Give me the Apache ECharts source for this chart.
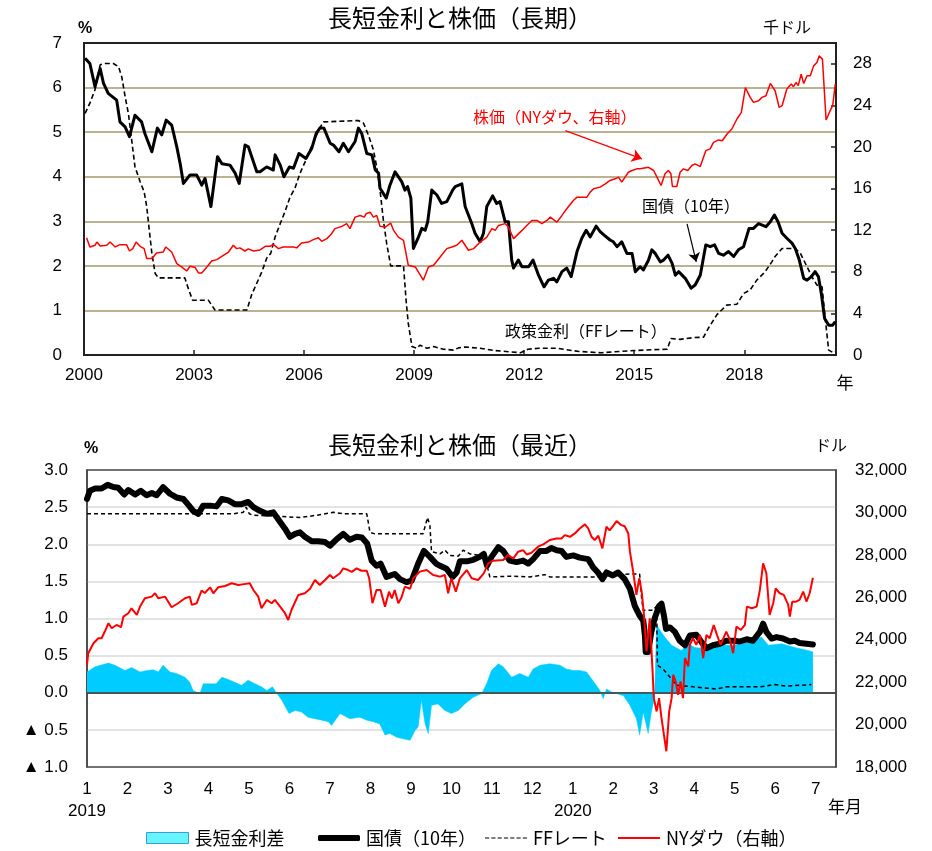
<!DOCTYPE html>
<html><head><meta charset="utf-8">
<script src="https://cdn.jsdelivr.net/npm/echarts@6.0.0/dist/echarts.min.js"></script>
<style>html,body{margin:0;padding:0;background:#fff}#c{width:932px;height:851px}</style>
</head><body><div id="c"></div>
<script>
// ---------- TOP CHART (x = years since 2000) ----------
const longYearTicks = [0, 3, 6, 9, 12, 15, 18];
const longYieldPts = [[0.03,6.66],[0.16,6.54],[0.30,6.02],[0.44,6.43],[0.53,6.10],[0.66,5.87],[0.89,5.72],[0.98,5.23],[1.12,5.12],[1.24,4.90],[1.39,5.38],[1.57,5.23],[1.66,4.97],[1.85,4.56],[2.00,5.09],[2.12,4.94],[2.24,5.27],[2.39,5.16],[2.53,4.67],[2.62,4.30],[2.71,3.85],[2.89,4.04],[3.07,4.04],[3.21,3.81],[3.30,3.96],[3.46,3.33],[3.64,4.45],[3.76,4.29],[3.98,4.26],[4.12,4.08],[4.23,3.85],[4.39,4.71],[4.48,4.67],[4.71,4.11],[4.80,4.11],[4.98,4.22],[5.16,4.15],[5.21,4.49],[5.35,4.26],[5.45,4.00],[5.60,4.22],[5.71,4.19],[5.86,4.52],[6.05,4.41],[6.21,4.64],[6.33,4.97],[6.44,5.10],[6.54,5.09],[6.71,4.75],[6.80,4.71],[6.95,4.56],[7.07,4.75],[7.21,4.56],[7.39,4.79],[7.48,5.09],[7.57,4.97],[7.71,4.52],[7.85,4.49],[7.94,4.15],[8.03,4.08],[8.07,3.74],[8.24,3.52],[8.34,3.81],[8.48,4.11],[8.66,3.89],[8.75,3.70],[8.82,3.78],[8.91,3.52],[8.98,2.39],[9.12,2.65],[9.21,2.84],[9.30,2.80],[9.37,2.99],[9.48,3.70],[9.62,3.59],[9.75,3.40],[9.89,3.44],[10.05,3.70],[10.12,3.78],[10.30,3.84],[10.39,3.33],[10.57,2.95],[10.66,2.73],[10.80,2.54],[10.89,2.73],[10.98,3.33],[11.14,3.57],[11.25,3.40],[11.34,3.44],[11.48,2.99],[11.57,2.99],[11.66,2.13],[11.71,1.95],[11.84,2.13],[11.94,1.98],[12.12,1.98],[12.24,2.13],[12.39,1.79],[12.54,1.53],[12.66,1.68],[12.80,1.72],[12.89,1.64],[13.03,1.87],[13.16,1.95],[13.28,1.76],[13.44,2.32],[13.57,2.62],[13.69,2.80],[13.80,2.65],[13.96,2.89],[14.07,2.77],[14.18,2.69],[14.34,2.58],[14.43,2.54],[14.53,2.43],[14.66,2.54],[14.80,2.28],[14.94,2.28],[15.03,1.87],[15.16,1.98],[15.25,1.91],[15.39,2.13],[15.48,2.36],[15.57,2.28],[15.71,2.09],[15.80,2.13],[15.92,2.24],[16.03,2.06],[16.12,1.79],[16.21,1.87],[16.39,1.72],[16.55,1.50],[16.66,1.57],[16.80,1.79],[16.95,2.47],[17.07,2.43],[17.19,2.47],[17.30,2.28],[17.43,2.24],[17.57,2.32],[17.71,2.21],[17.84,2.36],[17.98,2.43],[18.13,2.84],[18.25,2.84],[18.39,2.95],[18.59,2.88],[18.71,2.99],[18.82,3.14],[18.92,2.99],[19.03,2.73],[19.16,2.62],[19.30,2.51],[19.39,2.39],[19.50,2.13],[19.62,1.72],[19.71,1.68],[19.83,1.76],[19.93,1.87],[20.02,1.76],[20.10,1.38],[20.19,0.82],[20.30,0.67],[20.41,0.67],[20.48,0.75]];
const longFFPts = [[0.03,5.42],[0.16,5.65],[0.30,5.95],[0.44,6.51],[0.57,6.54],[0.80,6.54],[0.94,6.47],[1.03,6.24],[1.12,5.80],[1.21,5.42],[1.30,4.82],[1.39,4.22],[1.53,3.89],[1.64,3.66],[1.71,3.33],[1.78,2.80],[1.85,2.28],[1.94,1.83],[2.03,1.73],[2.75,1.73],[2.84,1.50],[2.96,1.23],[3.39,1.23],[3.48,1.12],[3.57,1.01],[4.44,1.01],[4.57,1.35],[4.71,1.61],[4.85,1.87],[4.98,2.17],[5.09,2.28],[5.21,2.65],[5.35,2.95],[5.48,3.22],[5.62,3.55],[5.75,3.74],[5.89,4.08],[6.03,4.34],[6.16,4.60],[6.30,4.86],[6.42,5.09],[6.53,5.23],[7.48,5.26],[7.62,5.20],[7.75,4.94],[7.89,4.60],[7.98,4.22],[8.07,3.70],[8.16,3.03],[8.25,2.51],[8.36,2.00],[8.71,2.00],[8.78,1.23],[8.84,0.71],[8.94,0.19],[9.07,0.15],[9.16,0.22],[9.35,0.15],[9.53,0.19],[9.80,0.13],[10.07,0.11],[10.21,0.16],[10.39,0.18],[10.80,0.15],[11.2,0.10],[11.5,0.08],[11.9,0.05],[12.1,0.13],[12.4,0.15],[12.9,0.15],[13.3,0.10],[13.5,0.08],[14.1,0.05],[14.6,0.08],[15.0,0.10],[15.5,0.12],[15.9,0.13],[16.0,0.37],[16.25,0.35],[16.61,0.39],[16.89,0.40],[17.02,0.60],[17.25,0.90],[17.52,1.12],[17.80,1.14],[17.98,1.38],[18.16,1.46],[18.34,1.68],[18.57,1.87],[18.75,2.09],[18.84,2.21],[19.03,2.39],[19.39,2.39],[19.53,2.28],[19.71,1.98],[19.84,1.76],[19.98,1.57],[20.12,1.53],[20.21,0.79],[20.30,0.11],[20.43,0.05],[20.48,0.07]];
const longDowPts = [[0.07,11.28],[0.16,10.39],[0.30,10.55],[0.35,10.86],[0.44,10.48],[0.62,10.55],[0.71,10.86],[0.85,10.39],[0.98,10.61],[1.16,10.61],[1.24,10.00],[1.33,10.23],[1.42,10.86],[1.53,10.45],[1.64,10.23],[1.71,9.27],[1.85,9.27],[1.98,9.81],[2.16,9.90],[2.23,10.39],[2.39,9.90],[2.53,8.79],[2.66,8.47],[2.80,8.08],[2.89,8.53],[3.03,8.41],[3.12,7.89],[3.21,7.89],[3.35,8.47],[3.48,9.04],[3.62,9.17],[3.80,9.59],[3.94,9.90],[4.07,10.55],[4.16,10.23],[4.25,10.30],[4.39,10.00],[4.48,10.20],[4.62,10.00],[4.80,10.10],[4.94,10.45],[5.07,10.45],[5.16,10.64],[5.30,10.23],[5.43,10.39],[5.71,10.39],[5.80,10.30],[5.93,10.77],[6.12,10.86],[6.25,11.09],[6.39,11.28],[6.48,10.93],[6.62,11.19],[6.75,11.66],[6.84,12.15],[7.03,12.37],[7.16,12.63],[7.25,12.15],[7.39,13.26],[7.53,13.42],[7.64,13.26],[7.69,13.58],[7.80,13.74],[7.89,13.26],[7.98,13.42],[8.07,12.37],[8.21,12.30],[8.36,12.69],[8.44,11.98],[8.57,11.34],[8.71,11.03],[8.84,8.63],[9.03,8.47],[9.25,7.19],[9.39,8.47],[9.53,8.63],[9.71,9.43],[9.89,10.23],[10.03,10.39],[10.16,10.55],[10.30,11.03],[10.48,10.07],[10.62,10.23],[10.80,10.86],[10.98,11.34],[11.12,12.15],[11.21,11.98],[11.30,12.46],[11.48,12.63],[11.57,12.30],[11.71,11.19],[11.80,11.50],[11.94,11.98],[12.07,12.46],[12.21,12.94],[12.35,12.94],[12.48,12.63],[12.62,12.94],[12.71,13.26],[12.89,12.78],[13.03,13.42],[13.16,14.06],[13.34,14.86],[13.44,15.18],[13.71,15.18],[13.80,15.66],[13.89,15.98],[14.07,16.14],[14.21,16.46],[14.34,16.78],[14.48,16.94],[14.57,17.10],[14.66,16.62],[14.75,17.10],[14.84,17.57],[14.94,17.74],[15.07,17.90],[15.16,17.90],[15.39,18.05],[15.53,17.74],[15.62,17.10],[15.73,16.30],[15.84,17.42],[15.93,17.74],[16.00,17.42],[16.04,16.20],[16.16,16.20],[16.25,17.57],[16.34,17.90],[16.46,17.74],[16.57,18.22],[16.66,18.38],[16.80,18.12],[16.95,19.65],[17.07,19.82],[17.16,20.45],[17.30,20.68],[17.40,20.60],[17.53,21.25],[17.66,21.73],[17.80,22.69],[17.92,23.33],[18.03,25.72],[18.16,24.77],[18.25,24.29],[18.39,24.45],[18.48,24.77],[18.59,24.93],[18.71,26.11],[18.84,25.41],[18.95,23.81],[19.03,23.97],[19.16,25.57],[19.28,26.05],[19.34,25.80],[19.41,26.20],[19.47,25.90],[19.55,27.00],[19.62,26.11],[19.71,26.85],[19.80,26.85],[19.89,27.80],[19.98,28.12],[20.04,28.76],[20.13,28.45],[20.23,22.60],[20.34,23.49],[20.41,23.97],[20.48,26.05]];

// ---------- BOTTOM CHART (x = months since Jan 2019) ----------
const recentSpreadPts = [[0.00,0.28],[0.20,0.35],[0.53,0.40],[0.69,0.37],[0.94,0.30],[1.10,0.34],[1.31,0.28],[1.48,0.30],[1.64,0.31],[1.76,0.28],[1.88,0.37],[2.05,0.28],[2.21,0.26],[2.42,0.21],[2.54,0.14],[2.62,0.03],[2.79,-0.01],[2.87,0.12],[3.04,0.12],[3.19,0.12],[3.33,0.21],[3.49,0.18],[3.65,0.14],[3.82,0.10],[3.98,0.17],[4.15,0.12],[4.31,0.08],[4.44,0.03],[4.58,0.08],[4.68,0.00],[4.81,-0.10],[4.93,-0.22],[4.99,-0.28],[5.14,-0.24],[5.30,-0.26],[5.46,-0.33],[5.63,-0.35],[5.80,-0.37],[5.96,-0.39],[6.04,-0.44],[6.25,-0.28],[6.49,-0.35],[6.74,-0.33],[6.91,-0.37],[7.07,-0.39],[7.23,-0.42],[7.36,-0.57],[7.48,-0.55],[7.65,-0.60],[7.81,-0.62],[7.98,-0.64],[8.10,-0.51],[8.18,-0.46],[8.26,-0.10],[8.35,-0.42],[8.43,-0.55],[8.51,-0.17],[8.67,-0.15],[8.84,-0.24],[9.00,-0.28],[9.17,-0.24],[9.33,-0.15],[9.54,-0.06],[9.75,-0.01],[9.87,0.12],[9.99,0.30],[10.16,0.39],[10.28,0.35],[10.49,0.21],[10.69,0.26],[10.90,0.21],[11.02,0.32],[11.19,0.37],[11.43,0.39],[11.68,0.37],[11.84,0.32],[12.01,0.30],[12.17,0.30],[12.34,0.28],[12.46,0.19],[12.58,0.10],[12.67,0.03],[12.75,-0.08],[12.83,0.05],[12.96,0.01],[13.08,-0.01],[13.25,-0.04],[13.41,-0.17],[13.57,-0.35],[13.65,-0.57],[13.74,-0.26],[13.86,-0.55],[13.94,-0.26],[14.02,-0.06],[14.07,0.91],[14.27,0.75],[14.44,0.64],[14.68,0.57],[14.86,0.66],[15.01,0.61],[15.34,0.59],[15.67,0.64],[16.00,0.64],[16.33,0.68],[16.66,0.75],[16.83,0.64],[17.16,0.66],[17.48,0.61],[17.81,0.57],[17.93,0.55]];
const recentYieldPts = [[0.00,2.61],[0.07,2.72],[0.20,2.75],[0.36,2.75],[0.51,2.80],[0.65,2.77],[0.77,2.76],[0.92,2.67],[1.02,2.73],[1.19,2.67],[1.33,2.72],[1.47,2.66],[1.60,2.69],[1.72,2.66],[1.88,2.77],[2.05,2.68],[2.21,2.63],[2.38,2.61],[2.52,2.52],[2.62,2.45],[2.75,2.41],[2.87,2.52],[3.04,2.52],[3.20,2.51],[3.33,2.61],[3.49,2.59],[3.65,2.54],[3.82,2.54],[3.98,2.57],[4.11,2.50],[4.27,2.45],[4.44,2.41],[4.60,2.43],[4.77,2.30],[4.89,2.21],[5.01,2.10],[5.14,2.14],[5.26,2.16],[5.38,2.10],[5.55,2.04],[5.71,2.04],[5.88,2.03],[6.00,1.98],[6.17,2.07],[6.33,2.14],[6.49,2.06],[6.66,2.10],[6.79,2.09],[6.92,2.01],[7.03,1.78],[7.15,1.71],[7.25,1.74],[7.40,1.56],[7.60,1.60],[7.73,1.53],[7.89,1.49],[8.02,1.51],[8.18,1.74],[8.32,1.91],[8.47,1.83],[8.62,1.74],[8.72,1.71],[8.88,1.67],[9.03,1.56],[9.13,1.62],[9.21,1.77],[9.38,1.77],[9.54,1.79],[9.70,1.83],[9.80,1.87],[9.88,1.71],[9.99,1.83],[10.16,1.96],[10.28,1.91],[10.44,1.78],[10.61,1.76],[10.77,1.78],[10.90,1.74],[11.02,1.80],[11.19,1.91],[11.35,1.91],[11.47,1.95],[11.60,1.92],[11.72,1.91],[11.84,1.83],[12.01,1.85],[12.17,1.82],[12.38,1.80],[12.50,1.69],[12.62,1.62],[12.73,1.53],[12.83,1.62],[12.99,1.58],[13.12,1.62],[13.28,1.53],[13.41,1.40],[13.53,1.17],[13.65,1.04],[13.74,0.97],[13.78,0.77],[13.80,0.55],[13.86,0.55],[13.94,0.82],[14.02,1.00],[14.13,1.17],[14.19,1.20],[14.25,1.04],[14.30,0.86],[14.40,0.88],[14.52,0.82],[14.64,0.70],[14.77,0.64],[14.89,0.77],[15.05,0.78],[15.18,0.68],[15.30,0.60],[15.46,0.64],[15.63,0.66],[15.79,0.70],[15.96,0.70],[16.12,0.69],[16.29,0.72],[16.45,0.70],[16.62,0.82],[16.70,0.93],[16.78,0.82],[16.91,0.73],[17.03,0.75],[17.19,0.73],[17.36,0.69],[17.48,0.70],[17.60,0.67],[17.77,0.66],[17.93,0.65]];
const recentFFPts = [[0.00,2.41],[3.61,2.41],[3.86,2.43],[3.93,2.50],[4.01,2.41],[4.11,2.39],[4.60,2.38],[5.26,2.36],[5.67,2.39],[6.08,2.43],[6.33,2.41],[6.91,2.41],[6.99,2.16],[7.11,2.14],[8.30,2.14],[8.41,2.36],[8.47,2.25],[8.51,1.90],[8.72,1.87],[8.84,1.92],[8.96,1.85],[9.17,1.84],[9.29,1.92],[9.46,1.87],[9.70,1.85],[9.83,1.83],[9.95,1.56],[10.44,1.57],[10.94,1.56],[11.31,1.59],[11.43,1.56],[12.17,1.56],[12.67,1.56],[12.96,1.59],[13.49,1.60],[13.65,1.60],[13.70,1.27],[13.74,1.11],[13.98,1.11],[14.07,1.17],[14.09,0.37],[14.23,0.32],[14.40,0.21],[14.56,0.10],[14.97,0.08],[15.55,0.05],[15.80,0.08],[16.62,0.08],[16.99,0.11],[17.28,0.09],[17.89,0.11]];
const recentDowPts = [[0.00,22815],[0.03,23365],[0.16,23835],[0.28,24070],[0.36,24070],[0.44,24385],[0.53,24775],[0.61,24540],[0.73,24695],[0.84,24590],[0.90,25090],[1.02,25250],[1.10,25480],[1.23,25170],[1.31,25560],[1.43,25955],[1.60,26030],[1.68,26190],[1.76,25955],[1.93,26030],[2.09,25530],[2.25,25720],[2.42,25955],[2.54,26030],[2.59,25640],[2.71,25720],[2.83,26315],[2.91,26200],[3.04,26470],[3.12,26190],[3.24,26470],[3.41,26530],[3.57,26660],[3.74,26580],[3.88,26620],[4.02,26660],[4.11,26345],[4.23,26030],[4.31,25480],[4.44,25875],[4.56,25720],[4.64,25875],[4.77,25560],[4.89,25250],[4.97,24930],[5.05,25400],[5.22,26110],[5.38,26190],[5.51,26400],[5.63,26815],[5.75,26580],[5.88,26815],[6.00,27050],[6.08,26895],[6.25,27130],[6.33,27365],[6.45,27285],[6.54,27200],[6.66,27365],[6.78,27250],[6.91,27250],[6.97,26895],[7.05,25720],[7.15,26345],[7.25,26345],[7.36,25560],[7.46,26265],[7.53,25950],[7.60,26345],[7.69,25720],[7.77,26000],[7.85,26500],[7.98,26400],[8.06,26895],[8.22,27210],[8.39,27285],[8.55,27050],[8.72,26975],[8.84,27050],[8.92,26190],[9.00,26895],[9.11,26265],[9.21,26895],[9.38,27285],[9.50,26895],[9.66,26815],[9.80,27130],[9.91,27600],[10.03,27725],[10.28,27755],[10.40,27990],[10.53,27835],[10.65,28150],[10.77,28225],[10.86,28020],[10.98,28100],[11.14,28385],[11.27,28495],[11.43,28700],[11.60,28775],[11.72,28770],[11.80,28930],[11.93,28850],[12.05,29010],[12.17,29245],[12.30,29435],[12.38,29245],[12.46,28855],[12.54,28700],[12.63,28900],[12.73,28305],[12.83,29325],[12.91,29150],[13.01,29400],[13.08,29590],[13.20,29400],[13.28,29350],[13.37,29010],[13.41,28150],[13.49,27210],[13.57,26110],[13.64,26895],[13.70,26265],[13.75,25325],[13.82,23445],[13.86,24225],[13.90,25010],[13.97,22505],[14.00,21245],[14.07,20620],[14.13,21245],[14.19,20305],[14.25,19520],[14.31,18740],[14.38,20620],[14.44,21245],[14.48,22345],[14.54,22030],[14.60,21400],[14.66,22030],[14.72,21245],[14.77,23130],[14.85,22740],[14.89,23755],[14.97,24070],[15.05,23755],[15.14,24225],[15.22,23130],[15.30,24225],[15.38,24070],[15.48,24695],[15.56,24230],[15.65,23755],[15.72,24070],[15.79,24385],[15.88,23990],[15.96,23365],[16.04,24620],[16.15,24460],[16.25,24695],[16.30,25560],[16.42,25480],[16.54,25560],[16.62,26345],[16.70,27600],[16.78,27130],[16.86,25170],[16.95,25720],[17.01,26420],[17.11,26190],[17.21,26110],[17.32,25640],[17.36,25090],[17.42,25795],[17.51,25795],[17.60,25875],[17.69,26265],[17.77,25800],[17.85,26190],[17.93,26920]];

const seriesNames = ['長短金利差', '国債（10年）', 'FFレート', 'NYダウ（右軸）'];

const JP = "'Noto Sans CJK JP', sans-serif";
const NUM = "'Liberation Sans', Arial, 'DejaVu Sans', sans-serif";
const OLIVE = '#a39a6c';
const DASH_ICON = 'path://M0,0h4v1h-4z M6,0h4v1h-4z M12,0h4v1h-4z M18,0h4v1h-4z M24,0h4v1h-4z M30,0h4v1h-4z M36,0h4v1h-4z';

const chart = echarts.init(document.getElementById('c'), null, {renderer: 'canvas'});

function txt(text, x, y, opts) {
  opts = opts || {};
  return {
    type: 'text', x: x, y: y, silent: true, z: 100,
    style: {
      text: text, fill: opts.color || '#000',
      font: (opts.weight || 'normal') + ' ' + (opts.size || 16) + 'px ' + (opts.family || JP),
      textAlign: opts.align || 'center', align: opts.align || 'center',
      textVerticalAlign: 'middle', verticalAlign: 'middle'
    }
  };
}

const legendDefs = [
  {left: 146, h: 11, item: {name: seriesNames[0], icon: 'rect', itemStyle: {color: '#66f4ff', borderColor: '#3a9bd8', borderWidth: 1}}},
  {left: 318, h: 6, item: {name: seriesNames[1], icon: 'roundRect', itemStyle: {color: '#000', borderWidth: 0}}},
  {left: 485, h: 1.6, item: {name: seriesNames[2], icon: DASH_ICON, itemStyle: {color: '#000', borderWidth: 0}}},
  {left: 618, h: 2, item: {name: seriesNames[3], icon: 'rect', itemStyle: {color: '#ff0000', borderWidth: 0}}}
];

const option = {
  animation: false,
  backgroundColor: '#fff',
  grid: [
    {left: 84, top: 43, width: 752, height: 312, show: true, borderColor: '#222', borderWidth: 2, backgroundColor: 'transparent'},
    {left: 87, top: 470, width: 749, height: 297, show: true, borderColor: '#444', borderWidth: 1.5, backgroundColor: 'transparent'}
  ],
  legend: legendDefs.map(d => ({
    left: d.left, top: 829, padding: 0, itemWidth: 42, itemHeight: d.h, itemGap: 10,
    data: [d.item], selectedMode: true,
    textStyle: {fontFamily: JP, fontSize: 18, color: '#000', padding: [0, 0, 0, 1]}
  })),
  xAxis: [
    {
      gridIndex: 0, type: 'value', min: 0, max: 20.5, interval: 3,
      axisLine: {show: true, lineStyle: {color: '#222', width: 2}},
      axisTick: {show: true, inside: true, length: 5, lineStyle: {color: '#222', width: 1.5}},
      axisLabel: {
        fontFamily: NUM, fontSize: 17, color: '#000', margin: 12,
        formatter: v => longYearTicks.indexOf(Math.round(v * 100) / 100) >= 0 ? String(2000 + v) : ''
      },
      splitLine: {show: false}
    },
    {
      gridIndex: 1, type: 'value', min: 0, max: 18.5, interval: 1,
      axisLine: {show: true, lineStyle: {color: '#444', width: 1.5}},
      axisTick: {show: false},
      axisLabel: {
        fontFamily: NUM, fontSize: 17, color: '#000', margin: 11, lineHeight: 22,
        formatter: v => {
          if (Math.abs(v - Math.round(v)) > 1e-6) return '';
          const i = Math.round(v);
          if (i === 0) return '1\n2019';
          if (i === 12) return '1\n2020';
          return String(i % 12 + 1);
        }
      },
      splitLine: {show: false}
    }
  ],
  yAxis: [
    {
      gridIndex: 0, type: 'value', min: 0, max: 7, interval: 1,
      axisLine: {show: true, lineStyle: {color: '#222', width: 2}},
      axisTick: {show: false},
      axisLabel: {fontFamily: NUM, fontSize: 17, color: '#000', margin: 22},
      splitLine: {show: true, showMinLine: false, showMaxLine: false, lineStyle: {color: OLIVE, width: 1.5}}
    },
    {
      gridIndex: 0, type: 'value', position: 'right', min: 0, max: 30, interval: 4,
      axisLine: {show: true, lineStyle: {color: '#222', width: 2}},
      axisTick: {show: true, inside: true, length: 5, lineStyle: {color: '#222', width: 1.5}},
      axisLabel: {fontFamily: NUM, fontSize: 17, color: '#000', margin: 17, formatter: v => (v > 29 ? '' : String(v))},
      splitLine: {show: false}
    },
    {
      gridIndex: 1, type: 'value', min: -1, max: 3, interval: 0.5,
      axisLine: {show: true, lineStyle: {color: '#444', width: 1.5}},
      axisTick: {show: false},
      axisLabel: {
        fontFamily: NUM, fontSize: 17, color: '#000', margin: 19,
        formatter: v => (v < 0 ? '▲ ' + (-v).toFixed(1) : v.toFixed(1))
      },
      splitLine: {show: true, showMinLine: false, showMaxLine: false, lineStyle: {color: '#d9d9d9', width: 1.5}}
    },
    {
      gridIndex: 1, type: 'value', position: 'right', min: 18000, max: 32000, interval: 2000,
      axisLine: {show: true, lineStyle: {color: '#444', width: 1.5}},
      axisTick: {show: false},
      axisLabel: {fontFamily: NUM, fontSize: 17, color: '#000', margin: 19, formatter: v => v.toLocaleString('en-US')},
      splitLine: {show: false}
    }
  ],
  series: [
    {
      name: 'long_ff', type: 'line', xAxisIndex: 0, yAxisIndex: 0, data: longFFPts,
      symbol: 'none', lineStyle: {color: '#000', width: 1.6, type: [5, 3]}, z: 3
    },
    {
      name: 'long_10y', type: 'line', xAxisIndex: 0, yAxisIndex: 0, data: longYieldPts,
      symbol: 'none', lineStyle: {color: '#000', width: 3, join: 'round'}, z: 4,
      markLine: {
        silent: true, symbol: ['none', 'arrow'], symbolSize: 9,
        lineStyle: {color: '#000', width: 1.2, type: 'solid'}, label: {show: false},
        data: [[{coord: [16.44, 2.94]}, {coord: [16.69, 2.09]}]]
      }
    },
    {
      name: 'long_dow', type: 'line', xAxisIndex: 0, yAxisIndex: 1, data: longDowPts,
      symbol: 'none', lineStyle: {color: '#ff0000', width: 1.5}, z: 5,
      markLine: {
        silent: true, symbol: ['none', 'arrow'], symbolSize: 10,
        lineStyle: {color: '#ff0000', width: 1.2, type: 'solid'}, label: {show: false},
        data: [[{coord: [13.12, 21.57]}, {coord: [15.21, 18.86]}]]
      }
    },
    {
      name: seriesNames[0], type: 'line', xAxisIndex: 1, yAxisIndex: 2, data: recentSpreadPts,
      symbol: 'none', lineStyle: {color: '#00ccff', width: 0.5},
      itemStyle: {color: '#00ccff'},
      areaStyle: {color: '#00ccff', opacity: 1}, z: 2,
      markLine: {
        silent: true, symbol: 'none', label: {show: false},
        lineStyle: {color: '#444', width: 1.5, type: 'solid'},
        data: [{yAxis: 0}]
      }
    },
    {
      name: seriesNames[2], type: 'line', xAxisIndex: 1, yAxisIndex: 2, data: recentFFPts,
      symbol: 'none', lineStyle: {color: '#000', width: 1.5, type: [4, 3]}, itemStyle: {color: '#000'}, z: 3
    },
    {
      name: seriesNames[1], type: 'line', xAxisIndex: 1, yAxisIndex: 2, data: recentYieldPts,
      symbol: 'none', lineStyle: {color: '#000', width: 6, join: 'round', cap: 'round'}, itemStyle: {color: '#000'}, z: 4
    },
    {
      name: seriesNames[3], type: 'line', xAxisIndex: 1, yAxisIndex: 3, data: recentDowPts,
      symbol: 'none', lineStyle: {color: '#ff0000', width: 2}, itemStyle: {color: '#ff0000'}, z: 5
    }
  ],
  graphic: [
    txt('長短金利と株価（長期）', 460, 18, {size: 24}),
    txt('%', 85, 29, {size: 16, family: NUM, weight: 'bold'}),
    txt('千ドル', 787, 27, {size: 16}),
    txt('年', 845, 383, {size: 17}),
    txt('株価（NYダウ、右軸）', 473, 117, {size: 16, color: '#ff0000', align: 'left'}),
    txt('国債（10年）', 642, 206, {size: 16, align: 'left'}),
    txt('政策金利（FFレート）', 505, 331, {size: 16, align: 'left'}),
    txt('長短金利と株価（最近）', 460, 445, {size: 24}),
    txt('%', 91, 449, {size: 16, family: NUM, weight: 'bold'}),
    txt('ドル', 831, 445, {size: 16}),
    txt('年月', 845, 807, {size: 17})
  ]
};

chart.setOption(option);
</script></body></html>
